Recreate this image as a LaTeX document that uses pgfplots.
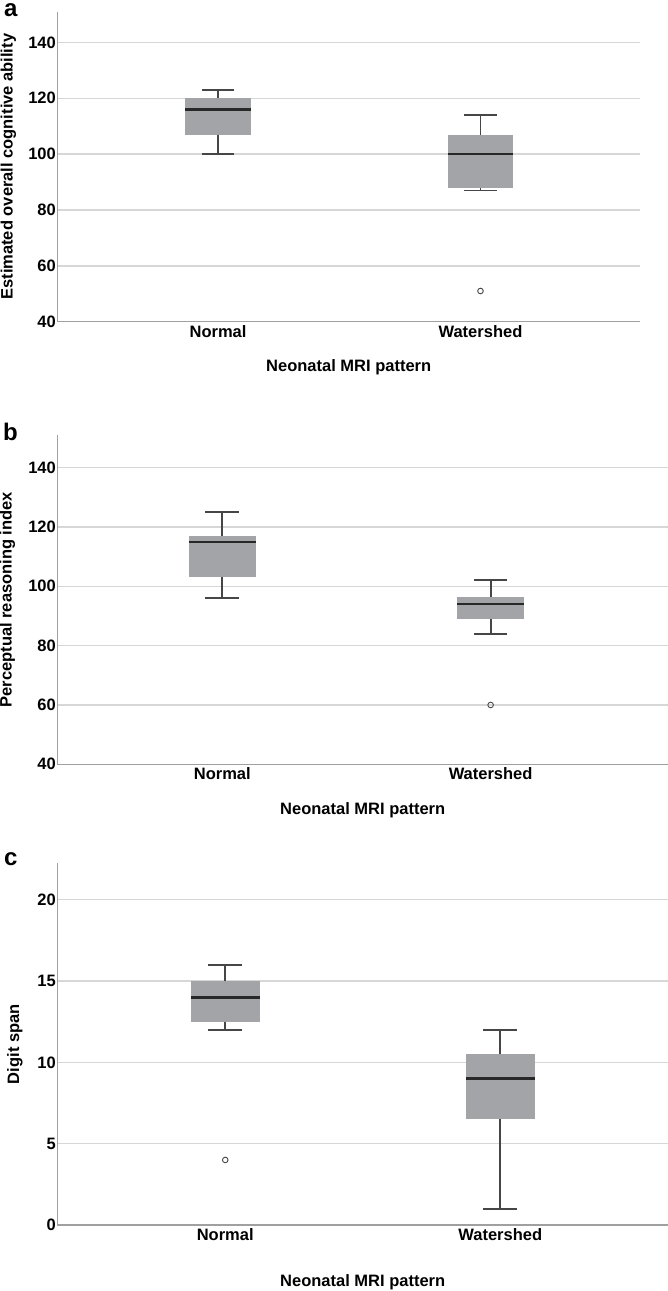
\documentclass[border=0pt]{standalone}
\usepackage{fontspec}
\setmainfont{Liberation Sans}
\usepackage{pgfplots}
\pgfplotsset{compat=1.18}
\definecolor{boxgray}{RGB}{163,164,168}
\definecolor{medcol}{RGB}{40,40,40}
\definecolor{whiskcol}{RGB}{70,70,70}
\definecolor{gridcol}{RGB}{215,215,215}
\definecolor{axcol}{RGB}{160,160,160}
\pgfplotsset{
  panel/.style={
    scale only axis,
    anchor=north west,
    axis x line*=bottom, axis y line*=left,
    axis line style={draw=axcol, line width=1.3pt, -},
    ymajorgrids, grid style={gridcol, line width=1.3pt},
    major tick length=0pt,
    xtick={0,1}, xticklabels={Normal,Watershed},
    tick label style={font=\fontsize{16.5}{18}\selectfont\bfseries},
    yticklabel style={inner xsep=1.5pt},
    /pgf/number format/assume math mode=true,
    label style={font=\fontsize{16.5}{18}\selectfont\bfseries},
    xlabel={Neonatal MRI pattern},
    clip=false,
  },
  boxf/.style={fill=boxgray, draw=none, mark=none},
  wsk/.style={draw=whiskcol, line width=1.8pt, mark=none},
  med/.style={draw=medcol, line width=2.4pt, mark=none},
  outl/.style={only marks, mark=o, mark size=2.8pt, mark options={draw=whiskcol, fill=white, line width=0.9pt}},
}
\begin{document}
\begin{tikzpicture}
\path[use as bounding box] (0,0) rectangle (668pt,-1291pt);
\node[anchor=base west, font=\fontsize{24}{24}\selectfont\bfseries, inner sep=0pt] at (4pt,-16pt) {a};
\node[anchor=base west, font=\fontsize{24}{24}\selectfont\bfseries, inner sep=0pt] at (3pt,-440pt) {b};
\node[anchor=base west, font=\fontsize{24}{24}\selectfont\bfseries, inner sep=0pt] at (4pt,-865pt) {c};

% Panel a
\begin{axis}[panel, at={(57.5pt,-11.7pt)}, width=582.5pt, height=310pt,
  xmin=-0.612, xmax=1.608, ymin=40, ymax=151, ytick={40,60,80,100,120,140},
  ylabel={Estimated overall cognitive ability},
  ylabel style={at={([xshift=-49pt]axis description cs:0,0.5)}, anchor=center},
  xlabel style={at={([yshift=-45.5pt]axis description cs:0.5,0)}, anchor=center}]
% Normal: lw 100, q1 107, med 116, q3 120, uw 123
\addplot[boxf] coordinates {(-0.125,107) (0.125,107) (0.125,120) (-0.125,120)} --cycle;
\addplot[wsk] coordinates {(0,120) (0,123)};
\addplot[wsk] coordinates {(-0.0625,123) (0.0625,123)};
\addplot[wsk] coordinates {(0,107) (0,100)};
\addplot[wsk] coordinates {(-0.0625,100) (0.0625,100)};
\addplot[med] coordinates {(-0.125,116) (0.125,116)};
% Watershed: lw 87, q1 88, med 100, q3 107, uw 114, outlier 51
\addplot[boxf] coordinates {(0.875,88) (1.125,88) (1.125,107) (0.875,107)} --cycle;
\addplot[wsk] coordinates {(1,107) (1,114)};
\addplot[wsk] coordinates {(0.9375,114) (1.0625,114)};
\addplot[wsk] coordinates {(1,88) (1,87)};
\addplot[wsk] coordinates {(0.9375,87) (1.0625,87)};
\addplot[med] coordinates {(0.875,100) (1.125,100)};
\addplot[outl] coordinates {(1,51)};
\end{axis}

% Panel b
\begin{axis}[panel, at={(57.5pt,-435pt)}, width=610.5pt, height=329.3pt,
  xmin=-0.614, xmax=1.661, ymin=40, ymax=151, ytick={40,60,80,100,120,140},
  ylabel={Perceptual reasoning index},
  ylabel style={at={([xshift=-50pt]axis description cs:0,0.5)}, anchor=center},
  xlabel style={at={([yshift=-46pt]axis description cs:0.5,0)}, anchor=center}]
% Normal: lw 96, q1 103, med 115, q3 117, uw 125
\addplot[boxf] coordinates {(-0.125,103) (0.125,103) (0.125,117) (-0.125,117)} --cycle;
\addplot[wsk] coordinates {(0,117) (0,125)};
\addplot[wsk] coordinates {(-0.0625,125) (0.0625,125)};
\addplot[wsk] coordinates {(0,103) (0,96)};
\addplot[wsk] coordinates {(-0.0625,96) (0.0625,96)};
\addplot[med] coordinates {(-0.125,115) (0.125,115)};
% Watershed: lw 84, q1 89, med 94, q3 96.5, uw 102, outlier 60
\addplot[boxf] coordinates {(0.875,89) (1.125,89) (1.125,96.5) (0.875,96.5)} --cycle;
\addplot[wsk] coordinates {(1,96.5) (1,102)};
\addplot[wsk] coordinates {(0.9375,102) (1.0625,102)};
\addplot[wsk] coordinates {(1,89) (1,84)};
\addplot[wsk] coordinates {(0.9375,84) (1.0625,84)};
\addplot[med] coordinates {(0.875,94) (1.125,94)};
\addplot[outl] coordinates {(1,60)};
\end{axis}

% Panel c
\begin{axis}[panel, at={(57.5pt,-863.3pt)}, width=610.5pt, height=361.7pt,
  xmin=-0.61, xmax=1.61, ymin=0, ymax=22.24, ytick={0,5,10,15,20},
  ylabel={Digit span},
  ylabel style={at={([xshift=-42.5pt]axis description cs:0,0.5)}, anchor=center},
  xlabel style={at={([yshift=-57pt]axis description cs:0.5,0)}, anchor=center}]
% Normal: lw 12, q1 12.5, med 14, q3 15, uw 16, outlier 4
\addplot[boxf] coordinates {(-0.125,12.5) (0.125,12.5) (0.125,15) (-0.125,15)} --cycle;
\addplot[wsk] coordinates {(0,15) (0,16)};
\addplot[wsk] coordinates {(-0.0625,16) (0.0625,16)};
\addplot[wsk] coordinates {(0,12.5) (0,12)};
\addplot[wsk] coordinates {(-0.0625,12) (0.0625,12)};
\addplot[med] coordinates {(-0.125,14) (0.125,14)};
\addplot[outl] coordinates {(0,4)};
% Watershed: lw 1, q1 6.5, med 9, q3 10.5, uw 12
\addplot[boxf] coordinates {(0.875,6.5) (1.125,6.5) (1.125,10.5) (0.875,10.5)} --cycle;
\addplot[wsk] coordinates {(1,10.5) (1,12)};
\addplot[wsk] coordinates {(0.9375,12) (1.0625,12)};
\addplot[wsk] coordinates {(1,6.5) (1,1)};
\addplot[wsk] coordinates {(0.9375,1) (1.0625,1)};
\addplot[med] coordinates {(0.875,9) (1.125,9)};
\end{axis}
\end{tikzpicture}
\end{document}
